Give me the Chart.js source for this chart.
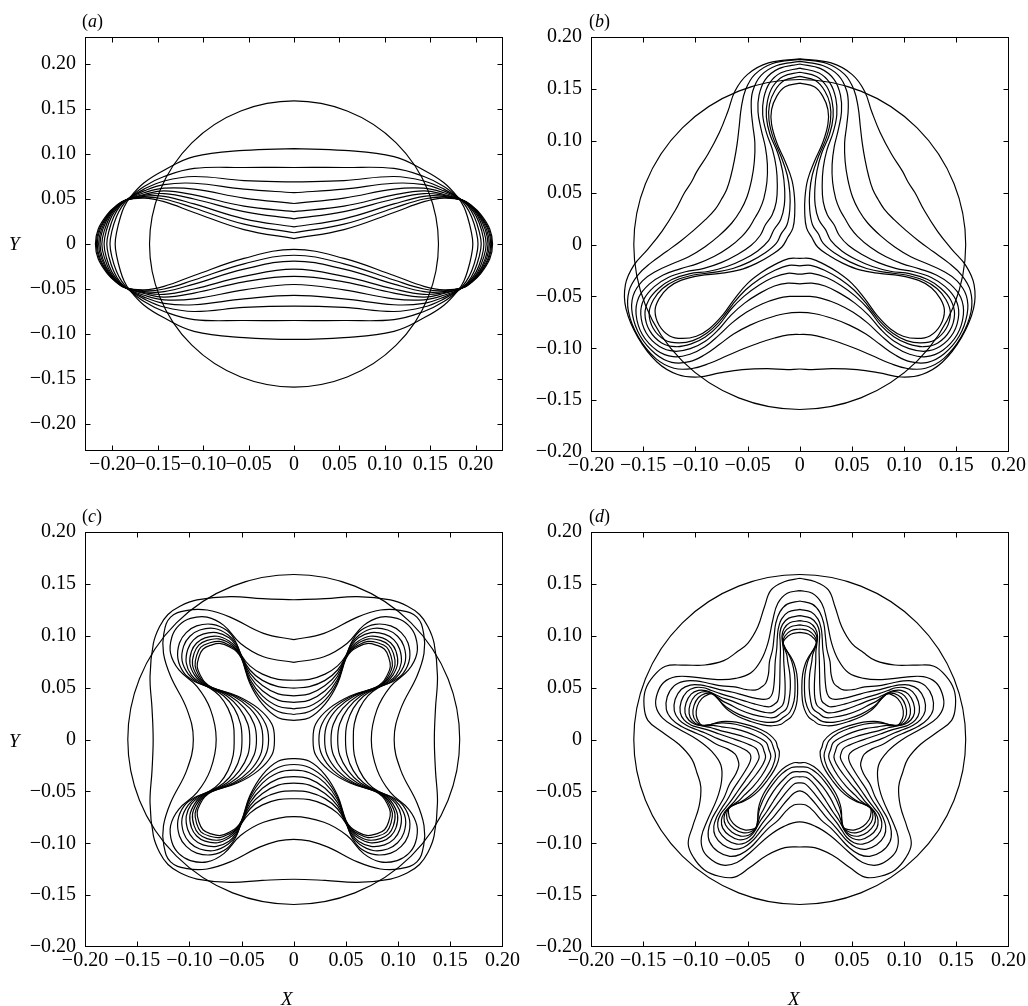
<!DOCTYPE html>
<html>
<head>
<meta charset="utf-8">
<script src="https://cdn.jsdelivr.net/npm/chart.js@4.4.1/dist/chart.umd.min.js"></script>
<style>
  html, body { margin: 0; padding: 0; background: #fff; }
  #page { position: relative; width: 1028px; height: 1006px; overflow: hidden; background: #fff; }
  canvas { position: absolute; }
  .lbl { position: absolute; font-family: "Liberation Serif", "Times New Roman", serif; line-height: 1; color: #000; white-space: nowrap; }
  .lbl i { font-style: italic; }
</style>
</head>
<body>
<div id="page">
  <canvas id="panelA" width="522" height="500" style="left:0;top:0;width:522px;height:500px"></canvas>
  <canvas id="panelB" width="523" height="500" style="left:505px;top:0;width:523px;height:500px"></canvas>
  <canvas id="panelC" width="522" height="511" style="left:0;top:495px;width:522px;height:511px"></canvas>
  <canvas id="panelD" width="523" height="511" style="left:505px;top:495px;width:523px;height:511px"></canvas>

  <div class="lbl" style="left:82px;top:12px;font-size:18px">(<i>a</i>)</div>
  <div class="lbl" style="left:589px;top:12px;font-size:18px">(<i>b</i>)</div>
  <div class="lbl" style="left:82px;top:507px;font-size:18px">(<i>c</i>)</div>
  <div class="lbl" style="left:589px;top:507px;font-size:18px">(<i>d</i>)</div>
  <div class="lbl" style="left:9px;top:234px;font-size:19px"><i>Y</i></div>
  <div class="lbl" style="left:9px;top:731px;font-size:19px"><i>Y</i></div>
  <div class="lbl" style="left:281px;top:989px;font-size:19px"><i>X</i></div>
  <div class="lbl" style="left:788px;top:989px;font-size:19px"><i>X</i></div>
</div>

<script>
// tick positions shared by every panel
const tickValues = [-0.20, -0.15, -0.10, -0.05, 0, 0.05, 0.10, 0.15, 0.20];
const limitA = 0.23;
const limitOthers = 0.20;
const circleRadius = 0.159;

// Each contour is one symmetry sector, starting on the +Y axis and
// ending on the next mirror line (clockwise).

// (a) two-fold: quadrant from (0, y0) to the end cap on the X axis
const contoursA = [
  [[0, 0.106], [0.055, 0.104], [0.11, 0.097], [0.143, 0.082], [0.165, 0.068], [0.181, 0.051], [0.187, 0.041], [0.191, 0.030], [0.195, 0.014], [0.1968, 0]],
  [[0, 0.085], [0.055, 0.085], [0.11, 0.084], [0.143, 0.075], [0.165, 0.064], [0.182, 0.0505], [0.1895, 0.0415], [0.1955, 0.030], [0.2005, 0.014], [0.2025, 0]],
  [[0, 0.069], [0.055, 0.0705], [0.11, 0.075], [0.143, 0.070], [0.165, 0.061], [0.183, 0.050], [0.1915, 0.042], [0.1985, 0.030], [0.2035, 0.015], [0.206, 0]],
  [[0, 0.057], [0.055, 0.061], [0.11, 0.0675], [0.143, 0.066], [0.165, 0.059], [0.1835, 0.0497], [0.1925, 0.0422], [0.2005, 0.031], [0.2065, 0.015], [0.209, 0]],
  [[0, 0.045], [0.055, 0.051], [0.11, 0.061], [0.143, 0.062], [0.165, 0.057], [0.184, 0.0494], [0.1935, 0.0424], [0.202, 0.0315], [0.2085, 0.0155], [0.2115, 0]],
  [[0, 0.036], [0.055, 0.042], [0.11, 0.0545], [0.143, 0.059], [0.165, 0.055], [0.1845, 0.0491], [0.194, 0.0425], [0.203, 0.032], [0.2105, 0.016], [0.2135, 0]],
  [[0, 0.028], [0.055, 0.036], [0.11, 0.050], [0.143, 0.056], [0.165, 0.054], [0.185, 0.0489], [0.1945, 0.0426], [0.2035, 0.0325], [0.212, 0.016], [0.215, 0]],
  [[0, 0.019], [0.055, 0.028], [0.11, 0.0445], [0.143, 0.053], [0.165, 0.053], [0.1855, 0.0487], [0.195, 0.0426], [0.204, 0.033], [0.2135, 0.016], [0.2165, 0]],
  [[0, 0.0125], [0.055, 0.022], [0.11, 0.040], [0.143, 0.050], [0.165, 0.052], [0.186, 0.0485], [0.1952, 0.0426], [0.2045, 0.033], [0.2145, 0.016], [0.2175, 0]],
  [[0, 0.006], [0.055, 0.016], [0.11, 0.035], [0.143, 0.047], [0.165, 0.051], [0.1865, 0.0483], [0.1955, 0.0425], [0.205, 0.0335], [0.2155, 0.0165], [0.2185, 0]]
];

// (b) three-fold: from the lobe tip on +Y down to the hollow at 30 degrees
const contoursB = [
  [[0, 0.179], [0.03, 0.175], [0.05, 0.164], [0.062, 0.148], [0.0689, 0.1282], [0.077, 0.108], [0.088, 0.087], [0.0985, 0.0705], [0.1039, 0.060]],
  [[0, 0.1785], [0.026, 0.1745], [0.043, 0.164], [0.052, 0.149], [0.056, 0.132], [0.058, 0.114], [0.060, 0.097], [0.0625, 0.082], [0.066, 0.066], [0.070, 0.053], [0.0751, 0.0434]],
  [[0, 0.1765], [0.022, 0.1725], [0.037, 0.163], [0.045, 0.148], [0.0465, 0.132], [0.045, 0.115], [0.043, 0.098], [0.0435, 0.080], [0.046, 0.063], [0.0505, 0.046], [0.0567, 0.0328]],
  [[0, 0.174], [0.020, 0.1695], [0.033, 0.159], [0.039, 0.144], [0.040, 0.128], [0.037, 0.111], [0.033, 0.094], [0.031, 0.077], [0.0315, 0.060], [0.0345, 0.044], [0.0385, 0.0335], [0.0433, 0.025]],
  [[0, 0.170], [0.018, 0.1655], [0.029, 0.1555], [0.0345, 0.141], [0.0355, 0.125], [0.032, 0.108], [0.026, 0.091], [0.0225, 0.074], [0.0215, 0.057], [0.0225, 0.041], [0.0265, 0.0285], [0.0329, 0.019]],
  [[0, 0.166], [0.016, 0.162], [0.026, 0.152], [0.031, 0.138], [0.032, 0.123], [0.0285, 0.106], [0.021, 0.088], [0.0165, 0.071], [0.0145, 0.054], [0.0148, 0.038], [0.0182, 0.024], [0.0247, 0.0143]],
  [[0, 0.162], [0.015, 0.158], [0.024, 0.148], [0.029, 0.135], [0.0295, 0.120], [0.0255, 0.103], [0.018, 0.085], [0.012, 0.067], [0.0095, 0.050], [0.0095, 0.034], [0.0122, 0.019], [0.0178, 0.0103]],
  [[0, 0.1556], [0.014, 0.152], [0.022, 0.143], [0.027, 0.130], [0.027, 0.116], [0.022, 0.098], [0.014, 0.080], [0.0075, 0.062], [0.005, 0.045], [0.0048, 0.030], [0.0065, 0.016], [0.0116, 0.0067]]
];

// (c) four-fold: from the hollow on +Y out to the lobe tip on the diagonal
const contoursC = [
  [[0, 0.1347], [0.03, 0.1358], [0.061, 0.1377], [0.0927, 0.1345], [0.109, 0.1285], [0.1205, 0.1205]],
  [[0, 0.0962], [0.029, 0.1023], [0.061, 0.118], [0.083, 0.1248], [0.102, 0.1245], [0.118, 0.118]],
  [[0, 0.0743], [0.029, 0.0798], [0.051, 0.0926], [0.067, 0.110], [0.083, 0.118], [0.099, 0.1167], [0.110, 0.110]],
  [[0, 0.0571], [0.015, 0.058], [0.03, 0.063], [0.042, 0.071], [0.05, 0.081], [0.056, 0.095], [0.064, 0.105], [0.078, 0.111], [0.093, 0.1095], [0.103, 0.103]],
  [[0, 0.0496], [0.015, 0.051], [0.03, 0.057], [0.042, 0.067], [0.05, 0.0805], [0.055, 0.092], [0.063, 0.101], [0.076, 0.107], [0.090, 0.1055], [0.0995, 0.0995]],
  [[0, 0.0421], [0.015, 0.044], [0.03, 0.052], [0.042, 0.064], [0.05, 0.080], [0.055, 0.090], [0.062, 0.098], [0.074, 0.103], [0.087, 0.1015], [0.096, 0.096]],
  [[0, 0.0357], [0.015, 0.038], [0.03, 0.047], [0.042, 0.061], [0.05, 0.0795], [0.055, 0.0885], [0.062, 0.095], [0.073, 0.0995], [0.085, 0.098], [0.093, 0.093]],
  [[0, 0.0296], [0.015, 0.032], [0.03, 0.042], [0.042, 0.058], [0.05, 0.079], [0.055, 0.087], [0.062, 0.093], [0.072, 0.097], [0.083, 0.0955], [0.091, 0.091]],
  [[0, 0.0241], [0.015, 0.027], [0.03, 0.038], [0.042, 0.056], [0.05, 0.0785], [0.055, 0.086], [0.061, 0.0905], [0.071, 0.0945], [0.081, 0.093], [0.089, 0.089]],
  [[0, 0.0185], [0.015, 0.021], [0.03, 0.034], [0.042, 0.054], [0.05, 0.078], [0.055, 0.085], [0.061, 0.089], [0.070, 0.0925], [0.079, 0.091], [0.087, 0.087]]
];

// (d) five-fold: from the lobe tip on +Y down to the hollow at 54 degrees
const contoursD = [
  [[0, 0.1554], [0.015, 0.152], [0.0274, 0.1441], [0.0338, 0.128], [0.0402, 0.1087], [0.0498, 0.0927], [0.0609, 0.0838]],
  [[0, 0.1435], [0.012, 0.141], [0.021, 0.1313], [0.0258, 0.1152], [0.0306, 0.0927], [0.037, 0.0766], [0.0467, 0.0643]],
  [[0, 0.1335], [0.012, 0.1305], [0.019, 0.123], [0.023, 0.112], [0.0245, 0.100], [0.026, 0.087], [0.029, 0.075], [0.030, 0.063], [0.0325, 0.0545], [0.0367, 0.0505]],
  [[0, 0.1255], [0.011, 0.1228], [0.0175, 0.116], [0.0205, 0.107], [0.0215, 0.098], [0.022, 0.088], [0.0235, 0.075], [0.024, 0.063], [0.0248, 0.052], [0.0262, 0.0445], [0.0291, 0.040]],
  [[0, 0.1194], [0.0105, 0.117], [0.0165, 0.111], [0.019, 0.103], [0.0188, 0.095], [0.0185, 0.086], [0.0188, 0.075], [0.019, 0.063], [0.0192, 0.052], [0.0198, 0.0435], [0.0212, 0.037], [0.0246, 0.0338]],
  [[0, 0.1145], [0.0095, 0.1125], [0.015, 0.107], [0.017, 0.100], [0.0165, 0.093], [0.0155, 0.085], [0.0153, 0.075], [0.0145, 0.063], [0.014, 0.051], [0.0145, 0.040], [0.0165, 0.033], [0.0212, 0.0291]],
  [[0, 0.1104], [0.009, 0.1085], [0.0145, 0.1035], [0.0165, 0.097], [0.015, 0.089], [0.0125, 0.082], [0.0115, 0.075], [0.0095, 0.063], [0.009, 0.050], [0.0105, 0.037], [0.0128, 0.0295], [0.0183, 0.0252]],
  [[0, 0.1065], [0.0085, 0.1048], [0.014, 0.100], [0.016, 0.094], [0.014, 0.0885], [0.0105, 0.082], [0.0076, 0.075], [0.005, 0.063], [0.0045, 0.050], [0.0055, 0.037], [0.0095, 0.0265], [0.0155, 0.0214]],
  [[0, 0.1033], [0.0085, 0.1015], [0.014, 0.097], [0.016, 0.093], [0.0135, 0.087], [0.009, 0.0805], [0.0055, 0.0735], [0.0028, 0.063], [0.002, 0.050], [0.0025, 0.038], [0.0045, 0.029], [0.0085, 0.0215], [0.0132, 0.0182]]
];

// mirror the sector onto the next one, then repeat it round the centre
function closeCurve(sector, fold) {
  const mirror = Math.PI / 2 - Math.PI / fold;
  const c2 = Math.cos(2 * mirror), s2 = Math.sin(2 * mirror);
  const back = sector.slice(0, -1).reverse().map(([x, y]) => [x * c2 + y * s2, x * s2 - y * c2]);
  const period = sector.concat(back.slice(0, -1));
  const step = -2 * Math.PI / fold;
  const pts = [];
  for (let k = 0; k < fold; k++) {
    const c = Math.cos(step * k), s = Math.sin(step * k);
    period.forEach(([x, y]) => pts.push({ x: x * c - y * s, y: x * s + y * c }));
  }
  pts.push({ x: pts[0].x, y: pts[0].y });
  return pts;
}

function formatTick(value) {
  if (Math.abs(value) < 1e-9) return '0';
  return (value < 0 ? '\u2212' : '') + Math.abs(value).toFixed(2);
}

const tickFont = { family: '"Liberation Serif", "Times New Roman", serif', size: 20 };

// box, inward ticks on all four sides and the reference circle
const framePlugin = {
  id: 'frame',
  afterDatasetsDraw(chart) {
    const { ctx, chartArea, scales } = chart;
    const xs = scales.x, ys = scales.y;
    const L = Math.round(chartArea.left) + 0.5, R = Math.round(chartArea.right) - 0.5;
    const T = Math.round(chartArea.top) + 0.5, B = Math.round(chartArea.bottom) - 0.5;
    const clamp = (v, lo, hi) => Math.min(Math.max(v, lo), hi);
    const tick = 5;
    ctx.save();
    ctx.strokeStyle = '#000';
    ctx.lineWidth = 1.15;
    const cx = xs.getPixelForValue(0), cy = ys.getPixelForValue(0);
    const rx = xs.getPixelForValue(circleRadius) - cx;
    const ry = cy - ys.getPixelForValue(circleRadius);
    ctx.beginPath();
    ctx.ellipse(cx, cy, rx, ry, 0, 0, Math.PI * 2);
    ctx.stroke();

    ctx.lineWidth = 1;
    ctx.strokeRect(L, T, R - L, B - T);
    ctx.beginPath();
    tickValues.forEach(v => {
      const px = clamp(Math.round(xs.getPixelForValue(v)) + 0.5, L, R);
      const py = clamp(Math.round(ys.getPixelForValue(v)) + 0.5, T, B);
      ctx.moveTo(px, B); ctx.lineTo(px, B - tick);
      ctx.moveTo(px, T); ctx.lineTo(px, T + tick);
      ctx.moveTo(L, py); ctx.lineTo(L + tick, py);
      ctx.moveTo(R, py); ctx.lineTo(R - tick, py);
    });
    ctx.stroke();
    ctx.restore();
  }
};

function makePanel(id, contours, fold, limit, box) {
  const datasets = contours.map(sector => ({
    data: closeCurve(sector, fold),
    showLine: true,
    borderColor: '#000',
    borderWidth: 1.2,
    pointRadius: 0,
    tension: 0.4,
    fill: false
  }));
  const axisTicks = {
    autoSkip: false,
    maxRotation: 0,
    minRotation: 0,
    color: '#000',
    font: tickFont,
    callback: formatTick
  };
  return new Chart(document.getElementById(id), {
    type: 'scatter',
    data: { datasets },
    options: {
      responsive: false,
      animation: false,
      devicePixelRatio: 1,
      events: [],
      layout: { padding: { top: box.top, right: box.right, left: 0, bottom: 0 } },
      plugins: { legend: { display: false }, tooltip: { enabled: false } },
      scales: {
        x: {
          type: 'linear', min: -limit, max: limit,
          grid: { display: false, drawTicks: false },
          border: { display: false },
          afterBuildTicks: s => { s.ticks = tickValues.map(v => ({ value: v })); },
          afterFit: s => { s.height = box.xAxis; },
          ticks: Object.assign({ padding: 2 }, axisTicks)
        },
        y: {
          type: 'linear', min: -limit, max: limit,
          grid: { display: false, drawTicks: false },
          border: { display: false },
          afterBuildTicks: s => { s.ticks = tickValues.map(v => ({ value: v })); },
          afterFit: s => { s.width = box.yAxis; },
          ticks: Object.assign({ padding: 9 }, axisTicks)
        }
      }
    },
    plugins: [framePlugin]
  });
}

makePanel('panelA', contoursA, 2, limitA, { top: 37, right: 19, yAxis: 85, xAxis: 49 });
makePanel('panelB', contoursB, 3, limitOthers, { top: 37, right: 19, yAxis: 86, xAxis: 48 });
makePanel('panelC', contoursC, 4, limitOthers, { top: 37, right: 19, yAxis: 85, xAxis: 59 });
makePanel('panelD', contoursD, 5, limitOthers, { top: 37, right: 19, yAxis: 86, xAxis: 59 });
</script>
</body>
</html>
